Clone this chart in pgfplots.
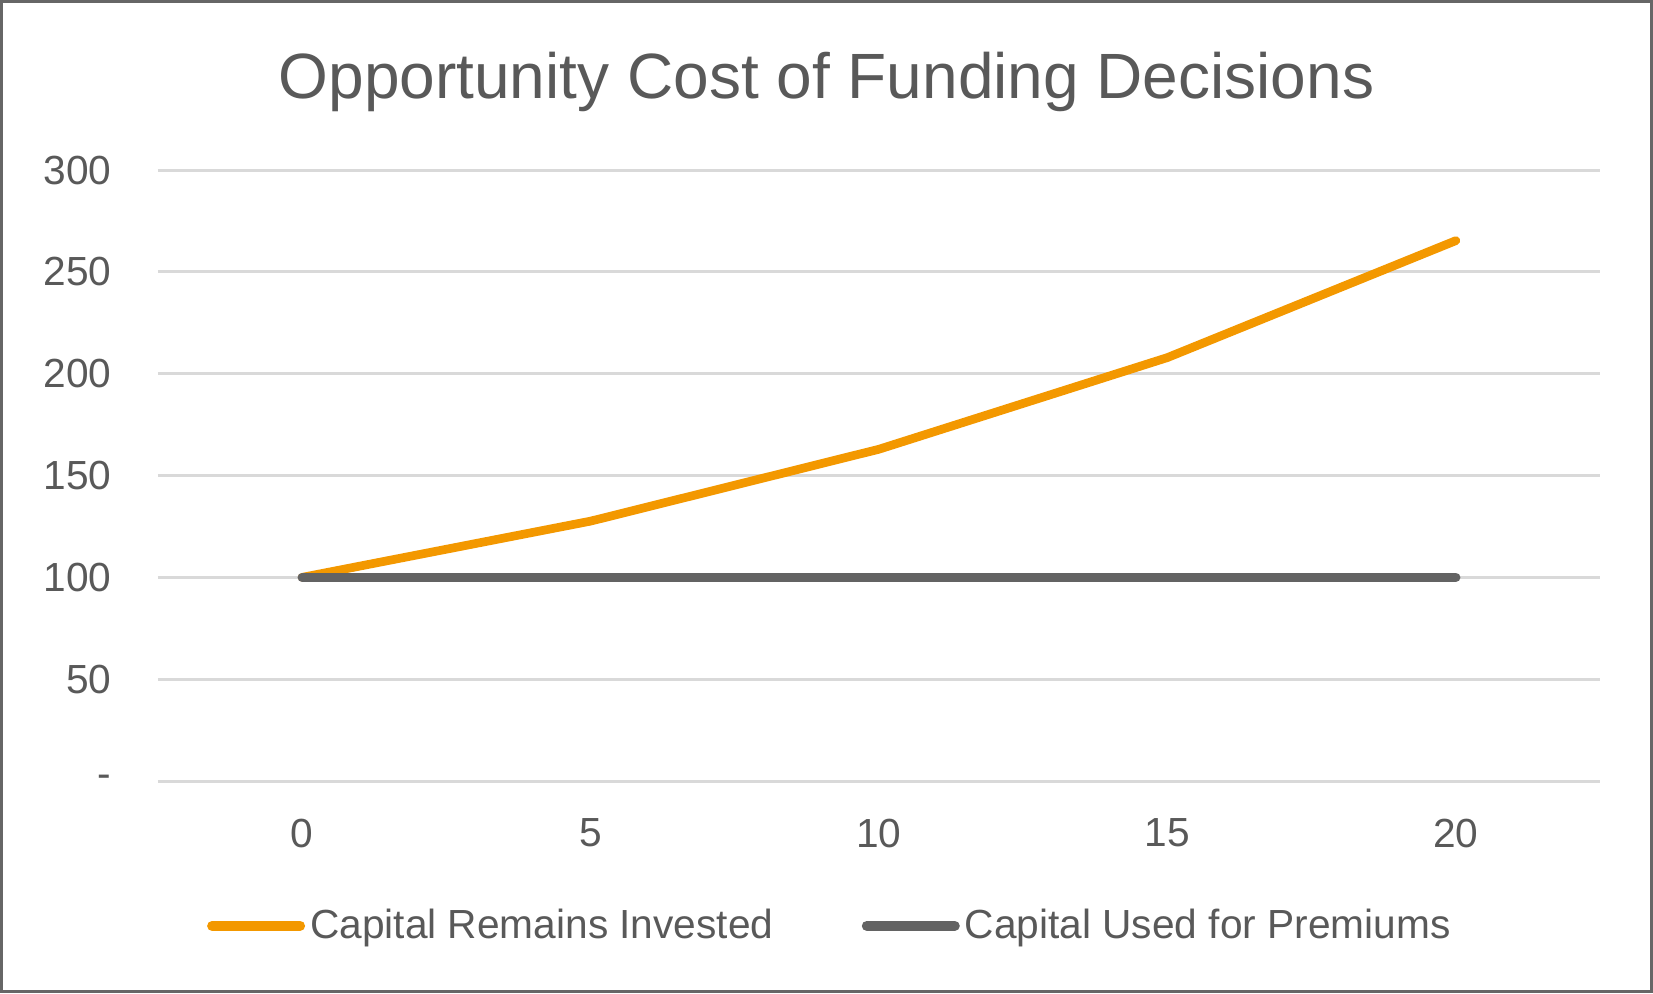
\documentclass[border=0pt]{standalone}
\usepackage{fontspec}
\setmainfont{Liberation Sans}
\usepackage{pgfplots}
\pgfplotsset{compat=1.18}
\definecolor{txt}{RGB}{89,89,89}
\definecolor{org}{RGB}{243,152,0}
\definecolor{gry}{RGB}{99,99,99}
\definecolor{gridc}{RGB}{217,217,217}
\definecolor{bord}{RGB}{102,102,102}
\begin{document}
\begin{tikzpicture}
\useasboundingbox (0,0) rectangle (495.9pt,297.9pt);
\draw[bord, line width=1pt] (0.5pt,0.5pt) rectangle (495.4pt,297.4pt);
\node[anchor=base, text=txt, font=\fontsize{19.2}{22}\selectfont, inner sep=0pt] at (247.95pt,268.4pt) {Opportunity Cost of Funding Decisions};
\begin{axis}[
  at={(47.4pt,63.6pt)}, anchor=south west,
  scale only axis, width=432.6pt, height=183.3pt,
  xmin=-2.5, xmax=22.5, ymin=0, ymax=300,
  xtick={0,5,10,15,20},
  ytick={0,50,100,150,200,250,300},
  yticklabels={-,50,100,150,200,250,300},
  /pgf/number format/assume math mode=true,
  axis line style={draw=none},
  major tick style={draw=none},
  xmajorgrids=false, ymajorgrids=true,
  major grid style={draw=gridc, line width=0.9pt},
  tick label style={text=txt, font=\fontsize{12.2}{14}\selectfont},
  yticklabel style={anchor=east, inner sep=0pt, xshift=-13.8pt},
  xticklabel style={anchor=north, inner sep=0pt, yshift=-11.1pt},
  clip=false,
  legend columns=2,
  legend style={at={(0.467,-0.237)}, anchor=center, draw=none, fill=none,
    font=\fontsize{12.2}{14}\selectfont, text=txt,
    /tikz/every even column/.append style={column sep=25pt},
    nodes={inner sep=1.5pt}},
  legend image code/.code={\draw[#1, line width=3pt, line cap=round] (1.5pt,0pt) -- (27.9pt,0pt);},
]
\addplot[org, line width=2.6pt, line cap=round, line join=round] coordinates {(0,100) (5,127.6) (10,162.9) (15,207.9) (20,265.3)};
\addlegendentry{Capital Remains Invested}
\addplot[gry, line width=2.8pt, line cap=round] coordinates {(0,100) (5,100) (10,100) (15,100) (20,100)};
\addlegendentry{Capital Used for Premiums}
\end{axis}
\end{tikzpicture}
\end{document}
